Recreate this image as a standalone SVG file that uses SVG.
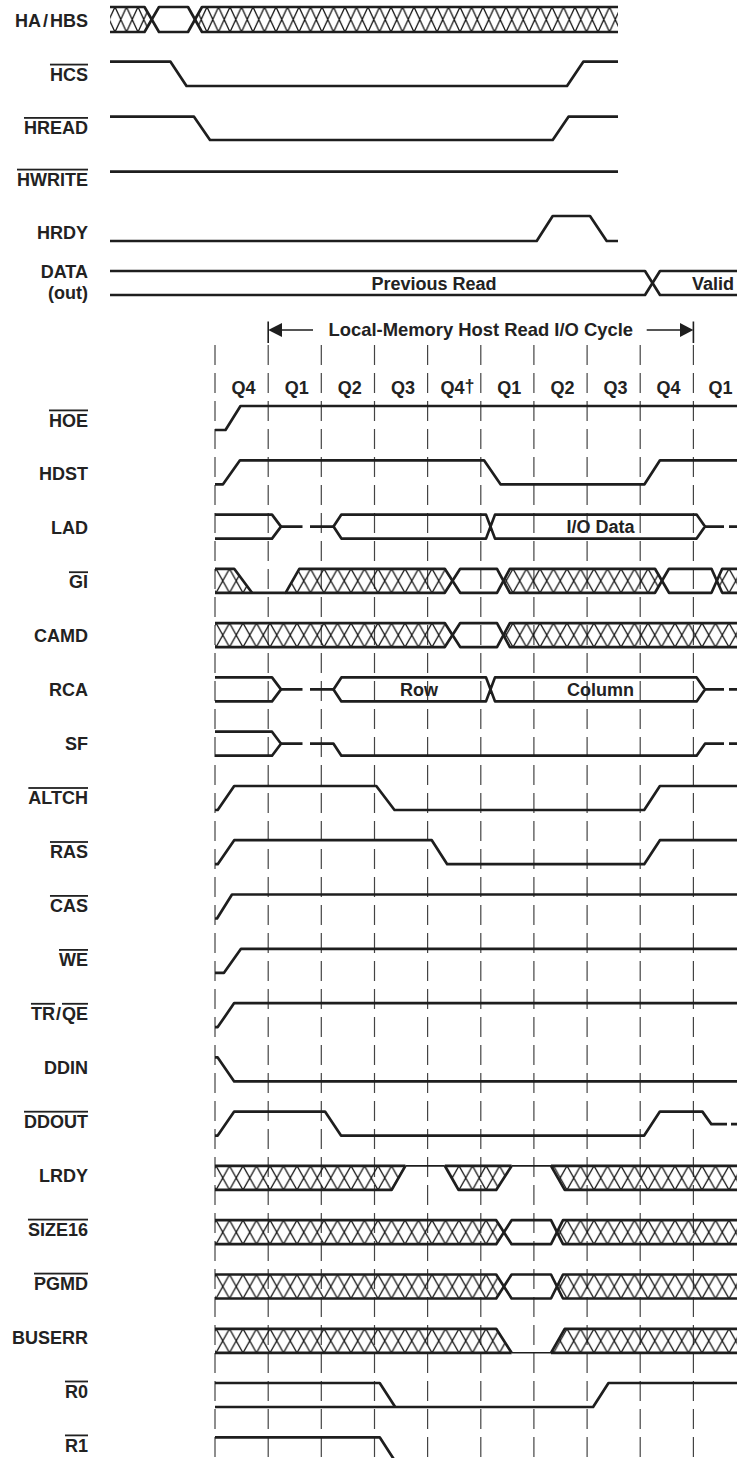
<svg xmlns="http://www.w3.org/2000/svg" width="737" height="1458" viewBox="0 0 737 1458">
<style>
.sig{fill:none;stroke:#1e1e1e;stroke-width:2.7;stroke-linejoin:round;stroke-linecap:butt}
.thin{stroke-width:1.6}
.lbl{font-family:"Liberation Sans",Arial,sans-serif;font-weight:bold;font-size:18px;fill:#222;text-anchor:end}
.ov{text-decoration:overline}
.ctr{font-family:"Liberation Sans",Arial,sans-serif;font-weight:bold;font-size:18px;fill:#222;text-anchor:middle}
.grid{fill:none;stroke:#444;stroke-width:1.2;stroke-dasharray:20 8}
.bar{fill:none;stroke:#1e1e1e;stroke-width:1.6}
.hx{fill:url(#hx);stroke:none}
.hxt{fill:url(#hxT);stroke:none}
</style>
<defs>
<pattern id="hx" width="13.5" height="24" patternUnits="userSpaceOnUse">
<path d="M0,0 L13.5,24 M0,24 L13.5,0" stroke="#111" stroke-width="1.3" fill="none"/>
</pattern>
<pattern id="hxT" width="11.5" height="25" patternUnits="userSpaceOnUse">
<path d="M0,0 L11.5,25 M0,25 L11.5,0" stroke="#111" stroke-width="1.3" fill="none"/>
</pattern>
</defs>
<rect width="737" height="1458" fill="#fff"/>

<g id="connectors">
<path class="grid" d="M215,345V1458 M268.2,345V1458 M321.3,345V1458 M374.5,345V1458 M427.6,345V1458 M480.8,345V1458 M533.9,345V1458 M587.1,345V1458 M640.2,345V1458 M693.4,345V1458"/>
<path class="bar" d="M268.2,321.5V343 M693.4,321.5V343 M282,330H313 M646.7,330H680"/>
<path d="M268.2,330 L282,323 L282,337 Z" fill="#1e1e1e"/>
<path d="M693.4,330 L680,323 L680,337 Z" fill="#1e1e1e"/>
</g>

<g id="cycle-label">
<text class="ctr" x="480.8" y="336" style="font-size:18.4px">Local-Memory Host Read I/O Cycle</text>
</g>

<g id="q-header">
<text class="ctr" x="243.5" y="394">Q4</text>
<text class="ctr" x="296.7" y="394">Q1</text>
<text class="ctr" x="349.8" y="394">Q2</text>
<text class="ctr" x="403" y="394">Q3</text>
<text class="ctr" x="457.5" y="394">Q4<tspan dy="-2">†</tspan></text>
<text class="ctr" x="509.3" y="394">Q1</text>
<text class="ctr" x="562.4" y="394">Q2</text>
<text class="ctr" x="615.6" y="394">Q3</text>
<text class="ctr" x="668.5" y="394">Q4</text>
<text class="ctr" x="720.5" y="394">Q1</text>
</g>

<!-- Top host signals -->
<g id="node-HAHBS">
<text class="lbl" x="88" y="27.3">HA<tspan dx="2">/</tspan><tspan dx="2">HBS</tspan></text>
<g transform="translate(0,7)">
<polygon class="hxt" points="110,0 144.5,0 151.7,12.5 144.5,25 110,25"/>
<polygon class="hxt" points="195,12.5 202,0 618,0 618,25 202,25"/>
<path class="sig" d="M110,0 H144.5 L159,25 H188 L202,0 H618"/>
<path class="sig" d="M110,25 H144.5 L159,0 H188 L202,25 H618"/>
</g>
</g>
<g id="node-HCS">
<text class="lbl ov" x="88" y="80.7">HCS</text>
<path class="sig" d="M110,61.7 H170.5 L186.5,86 H567 L583.3,61.7 H618"/>
</g>
<g id="node-HREAD">
<text class="lbl ov" x="88" y="134">HREAD</text>
<path class="sig" d="M110,116.7 H194 L210,140 H552.7 L568.5,116.7 H618"/>
</g>
<g id="node-HWRITE">
<text class="lbl ov" x="88" y="185.7">HWRITE</text>
<path class="sig" d="M110,171.7 H618"/>
</g>
<g id="node-HRDY">
<text class="lbl" x="88" y="239">HRDY</text>
<path class="sig" d="M110,241 H536.7 L552.7,216 H590 L606.7,241 H618"/>
</g>
<g id="node-DATA">
<text class="lbl" x="88" y="278.3">DATA</text>
<text class="lbl" x="88" y="299">(out)</text>
<path class="sig" d="M110,271 H645 L660,295 H737"/>
<path class="sig" d="M110,295 H645 L660,271 H737"/>
<text class="ctr" x="434" y="290">Previous Read</text>
<text class="lbl" x="692" y="290" style="text-anchor:start">Valid</text>
</g>

<!-- Local memory signals -->
<g id="node-HOE">
<text class="lbl ov" x="88" y="426.5">HOE</text>
<g transform="translate(0,406)"><path class="sig" d="M215,24 H225.5 L240.5,0 H737"/></g>
</g>
<g id="node-HDST">
<text class="lbl" x="88" y="480.4">HDST</text>
<g transform="translate(0,460.3)"><path class="sig" d="M215,24 H223 L240,0 H484 L500.5,24 H644.5 L660,0 H737"/></g>
</g>
<g id="node-LAD">
<text class="lbl" x="88" y="534.4">LAD</text>
<g transform="translate(0,514.6)">
<path class="sig" d="M215,0 H272 L281,12 L272,24 H215"/>
<path class="sig" d="M281,12 H302.5 M310,12 H333.5"/>
<path class="sig" d="M333.5,12 L341.4,0 H486 L495,24 H696.6 L705,12 L696.6,0 H495 L486,24 H341.4 Z"/>
<path class="sig" d="M705,12 H724 M729,12 H737"/>
<text class="ctr" x="600.5" y="18.5">I/O Data</text>
</g>
</g>
<g id="node-GI">
<text class="lbl ov" x="88" y="588.3">GI</text>
<g transform="translate(0,568.8)">
<polygon class="hx" points="215,0 234.2,0 252,24 215,24"/>
<polygon class="hx" points="285.6,24 299.3,0 444.8,0 452.5,12 444.8,24"/>
<polygon class="hx" points="503.5,12 509.9,0 655,0 662,12 655,24 509.9,24"/>
<polygon class="hx" points="716.9,12 722.2,0 737,0 737,24 722.2,24"/>
<path class="sig" d="M215,0 H234.2 L252,24"/>
<path class="sig" d="M215,24 H285.6 L299.3,0 H444.8 L460.2,24 H497 L509.9,0 H655 L669,24 H711.5 L722.2,0 H737"/>
<path class="sig" d="M285.6,24 H444.8 L460.2,0 H497 L509.9,24 H655 L669,0 H711.5 L722.2,24 H737"/>
</g>
</g>
<g id="node-CAMD">
<text class="lbl" x="88" y="642.3">CAMD</text>
<g transform="translate(0,623.1)">
<polygon class="hx" points="215,0 444.8,0 452.5,12 444.8,24 215,24"/>
<polygon class="hx" points="503.5,12 509.9,0 737,0 737,24 509.9,24"/>
<path class="sig" d="M215,0 H444.8 L460.2,24 H497 L509.9,0 H737"/>
<path class="sig" d="M215,24 H444.8 L460.2,0 H497 L509.9,24 H737"/>
</g>
</g>
<g id="node-RCA">
<text class="lbl" x="88" y="696.2">RCA</text>
<g transform="translate(0,677.4)">
<path class="sig" d="M215,0 H272 L281,12 L272,24 H215"/>
<path class="sig" d="M281,12 H302.5 M310,12 H333.5"/>
<path class="sig" d="M333.5,12 L341.4,0 H486 L495,24 H696.6 L705,12 L696.6,0 H495 L486,24 H341.4 Z"/>
<path class="sig" d="M705,12 H724 M729,12 H737"/>
<text class="ctr" x="419" y="18.5">Row</text>
<text class="ctr" x="600.5" y="18.5">Column</text>
</g>
</g>
<g id="node-SF">
<text class="lbl" x="88" y="750.2">SF</text>
<g transform="translate(0,731.7)">
<path class="sig" d="M215,0 H272 L281,12 L272,24 H215"/>
<path class="sig" d="M281,12 H302.5 M310,12 H333.5 L341.4,24 H696.6 L705,12 H724 M729,12 H737"/>
</g>
</g>
<g id="node-ALTCH">
<text class="lbl ov" x="88" y="804.1">ALTCH</text>
<g transform="translate(0,786)"><path class="sig" d="M215,24 H217.7 L234.2,0 H376.3 L394.5,24 H644.2 L659.9,0 H737"/></g>
</g>
<g id="node-RAS">
<text class="lbl ov" x="88" y="858.1">RAS</text>
<g transform="translate(0,840.2)"><path class="sig" d="M215,24 H217.7 L234.2,0 H431.8 L447.2,24 H644.2 L659.9,0 H737"/></g>
</g>
<g id="node-CAS">
<text class="lbl ov" x="88" y="912">CAS</text>
<g transform="translate(0,894.5)"><path class="sig" d="M215,24 H217 L232,0 H737"/></g>
</g>
<g id="node-WE">
<text class="lbl ov" x="88" y="966">WE</text>
<g transform="translate(0,948.8)"><path class="sig" d="M215,24 H224 L241,0 H737"/></g>
</g>
<g id="node-TRQE">
<text class="lbl" x="88" y="1019.9"><tspan class="ov">TR</tspan><tspan dx="1">/</tspan><tspan class="ov" dx="1">QE</tspan></text>
<g transform="translate(0,1003.1)"><path class="sig" d="M215,24 H217.7 L234.2,0 H737"/></g>
</g>
<g id="node-DDIN">
<text class="lbl" x="88" y="1073.9">DDIN</text>
<g transform="translate(0,1057.4)"><path class="sig" d="M215,0 H217.7 L234.2,24 H737"/></g>
</g>
<g id="node-DDOUT">
<text class="lbl ov" x="88" y="1127.8">DDOUT</text>
<g transform="translate(0,1111.6)">
<path class="sig" d="M215,24 H217.7 L234.2,0 H325 L341,24 H644.2 L659.9,0 H702.4 L711.3,12.5 H727 M731,12.5 H737"/>
</g>
</g>
<g id="node-LRDY">
<text class="lbl" x="88" y="1181.8">LRDY</text>
<g transform="translate(0,1165.9)">
<polygon class="hx" points="215,0 405.4,0 391.7,24 215,24"/>
<polygon class="hx" points="444.8,0 511.6,0 496.2,24 458.5,24"/>
<polygon class="hx" points="551,0 737,0 737,24 564.7,24"/>
<path class="sig" d="M215,0 H405.4 M444.8,0 H511.6 M551,0 H737"/>
<path class="sig thin" d="M405.4,0 H444.8 M511.6,0 H551"/>
<path class="sig" d="M215,24 H391.7 L405.4,0 M444.8,0 L458.5,24 H496.2 L511.6,0 M551,0 L564.7,24 H737"/>
</g>
</g>
<g id="node-SIZE16">
<text class="lbl ov" x="88" y="1235.7">SIZE16</text>
<g transform="translate(0,1220.2)">
<polygon class="hx" points="215,0 496.2,0 503.9,12 496.2,24 215,24"/>
<polygon class="hx" points="557,12 563,0 737,0 737,24 563,24"/>
<path class="sig" d="M215,0 H496.2 L511.6,24 H551 L563,0 H737"/>
<path class="sig" d="M215,24 H496.2 L511.6,0 H551 L563,24 H737"/>
</g>
</g>
<g id="node-PGMD">
<text class="lbl ov" x="88" y="1289.7">PGMD</text>
<g transform="translate(0,1274.5)">
<polygon class="hx" points="215,0 496.2,0 503.9,12 496.2,24 215,24"/>
<polygon class="hx" points="557,12 563,0 737,0 737,24 563,24"/>
<path class="sig" d="M215,0 H496.2 L511.6,24 H551 L563,0 H737"/>
<path class="sig" d="M215,24 H496.2 L511.6,0 H551 L563,24 H737"/>
</g>
</g>
<g id="node-BUSERR">
<text class="lbl" x="88" y="1343.6">BUSERR</text>
<g transform="translate(0,1328.8)">
<polygon class="hx" points="215,0 496.2,0 511.6,24 215,24"/>
<polygon class="hx" points="564.7,0 737,0 737,24 551,24"/>
<path class="sig" d="M215,0 H496.2 L511.6,24 M551,24 L564.7,0 H737"/>
<path class="sig" d="M215,24 H511.6 M551,24 H737"/>
<path class="sig thin" d="M511.6,24 H551"/>
</g>
</g>
<g id="node-R0">
<text class="lbl ov" x="88" y="1397.6">R0</text>
<g transform="translate(0,1383)">
<path class="sig" d="M215,0 H379.7 L395.2,24"/>
<path class="sig" d="M215,24 H593.1 L608.5,0 H737"/>
</g>
</g>
<g id="node-R1">
<text class="lbl ov" x="88" y="1451.5">R1</text>
<g transform="translate(0,1437.3)">
<path class="sig" d="M215,0 H379.7 L395.2,24"/>
</g>
</g>
</svg>
